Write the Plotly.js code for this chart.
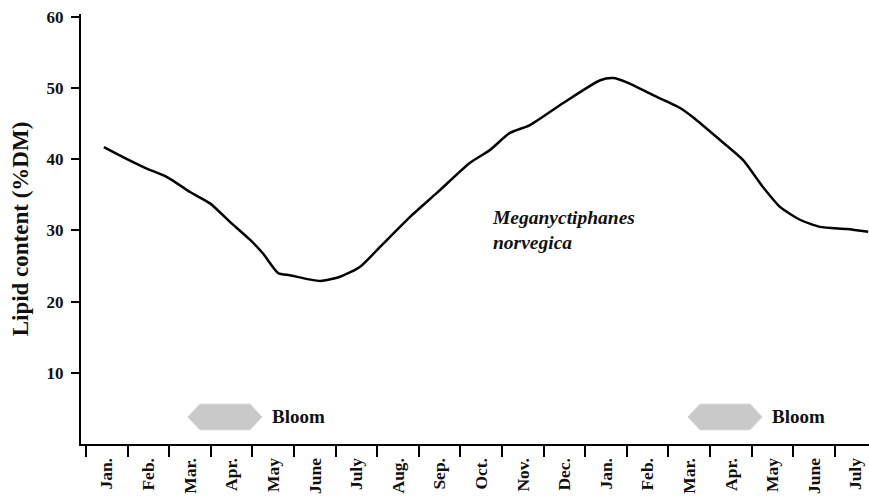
<!DOCTYPE html>
<html>
<head>
<meta charset="utf-8">
<script src="https://cdn.plot.ly/plotly-3.0.1.min.js"></script>
<style>
  html, body { margin: 0; padding: 0; background: #fff; }
  #chart { width: 869px; height: 496px; }
</style>
</head>
<body>
<div id="chart"></div>
<script>
// Month axis labels (each label sits in the middle of its month interval)
const monthLabels = ['Jan.','Feb.','Mar.','Apr.','May','June','July','Aug.','Sep.','Oct.','Nov.','Dec.','Jan.','Feb.','Mar.','Apr.','May','June','July'];

// Time in months from the first January tick
const timeMonths = [0.43, 0.89, 1.42, 1.95, 2.50, 2.98, 3.46, 3.94, 4.25, 4.62, 4.90, 5.63, 6.11, 6.59, 7.07, 7.79, 8.44, 9.23, 9.71, 10.19, 10.67, 11.47, 12.36, 12.67, 13.00, 13.63, 14.28, 14.59, 15.24, 15.79, 16.27, 16.68, 17.16, 17.64, 18.29, 18.80];
// Lipid content (% dry mass)
const lipidContent = [41.7, 40.3, 38.8, 37.5, 35.4, 33.8, 31.2, 28.7, 26.8, 24.0, 23.7, 22.9, 23.5, 24.9, 27.7, 31.9, 35.3, 39.5, 41.3, 43.7, 44.8, 47.9, 51.1, 51.4, 50.8, 49.0, 47.2, 45.9, 42.7, 39.9, 36.1, 33.3, 31.5, 30.5, 30.2, 29.8];

// Bloom periods (month index) and their vertical band
const bloomStart = [2.45, 14.47];
const bloomEnd = [4.23, 16.25];
const bloomBand = [2.0, 5.6];
const bloomLabel = 'Bloom';

const speciesLabel = 'Meganyctiphanes<br>norvegica';
const yTicks = [10, 20, 30, 40, 50, 60];

const serif = '"Liberation Serif", "Times New Roman", serif';
const ink = '#111111';

const monthTicks = monthLabels.map((_, i) => i);
const monthCentres = monthLabels.map((_, i) => i + 0.5);

const traces = [];
// Bloom hexagons
const tip = 0.29;
for (let k = 0; k < bloomStart.length; k++) {
  const x0 = bloomStart[k], x1 = bloomEnd[k];
  const yb = bloomBand[0], yt = bloomBand[1], ym = (yb + yt) / 2;
  traces.push({
    type: 'scatter', mode: 'lines', fill: 'toself',
    x: [x0, x0 + tip, x1 - tip, x1, x1 - tip, x0 + tip, x0],
    y: [ym, yt, yt, ym, yb, yb, ym],
    fillcolor: '#c9c9c9', line: {color: '#cfcfcf', width: 1},
    hoverinfo: 'skip', showlegend: false
  });
}
// Lipid curve
traces.push({
  type: 'scatter', mode: 'lines',
  x: timeMonths, y: lipidContent,
  line: {color: '#000000', width: 2.5, shape: 'spline', smoothing: 0.6},
  showlegend: false
});

const annotations = [];
for (let k = 0; k < bloomStart.length; k++) {
  annotations.push({
    x: bloomEnd[k] + 0.2, y: (bloomBand[0] + bloomBand[1]) / 2,
    xref: 'x', yref: 'y', xanchor: 'left', yanchor: 'middle',
    text: bloomLabel, showarrow: false,
    font: {family: serif, size: 19, color: ink, weight: 'bold'}
  });
}
annotations.push({
  x: 9.70, y: 30.0, xref: 'x', yref: 'y', xanchor: 'left', yanchor: 'middle',
  text: speciesLabel, showarrow: false, align: 'left',
  font: {family: serif, size: 19.5, color: ink, weight: 'bold', style: 'italic'}
});

const layout = {
  width: 869, height: 496,
  margin: {l: 81, r: 0, t: 14, b: 52, pad: 0},
  paper_bgcolor: '#ffffff', plot_bgcolor: '#ffffff',
  showlegend: false,
  xaxis: {
    range: [-0.12, 18.82],
    tickmode: 'array', tickvals: monthCentres, ticktext: monthLabels,
    ticks: '', tickangle: -90, ticklabelstandoff: 5,
    tickfont: {family: serif, size: 17.5, color: ink, weight: 'bold'},
    showline: true, linecolor: '#000', linewidth: 2,
    showgrid: false, zeroline: false,
    minor: {tickmode: 'array', tickvals: monthTicks, ticks: 'outside', ticklen: 11, tickwidth: 2, tickcolor: '#000', showgrid: false}
  },
  yaxis: {
    range: [0, 60.4],
    tickmode: 'array', tickvals: yTicks,
    ticks: 'outside', ticklen: 8, tickwidth: 2, tickcolor: '#000',
    ticklabelstandoff: 4,
    tickfont: {family: serif, size: 17, color: ink, weight: 'bold'},
    showline: true, linecolor: '#000', linewidth: 2,
    showgrid: false, zeroline: false,
    title: {text: 'Lipid content (%DM)', standoff: 12,
            font: {family: serif, size: 23, color: ink, weight: 'bold'}}
  },
  annotations: annotations
};

Plotly.newPlot('chart', traces, layout, {staticPlot: true, displayModeBar: false});
</script>
</body>
</html>
